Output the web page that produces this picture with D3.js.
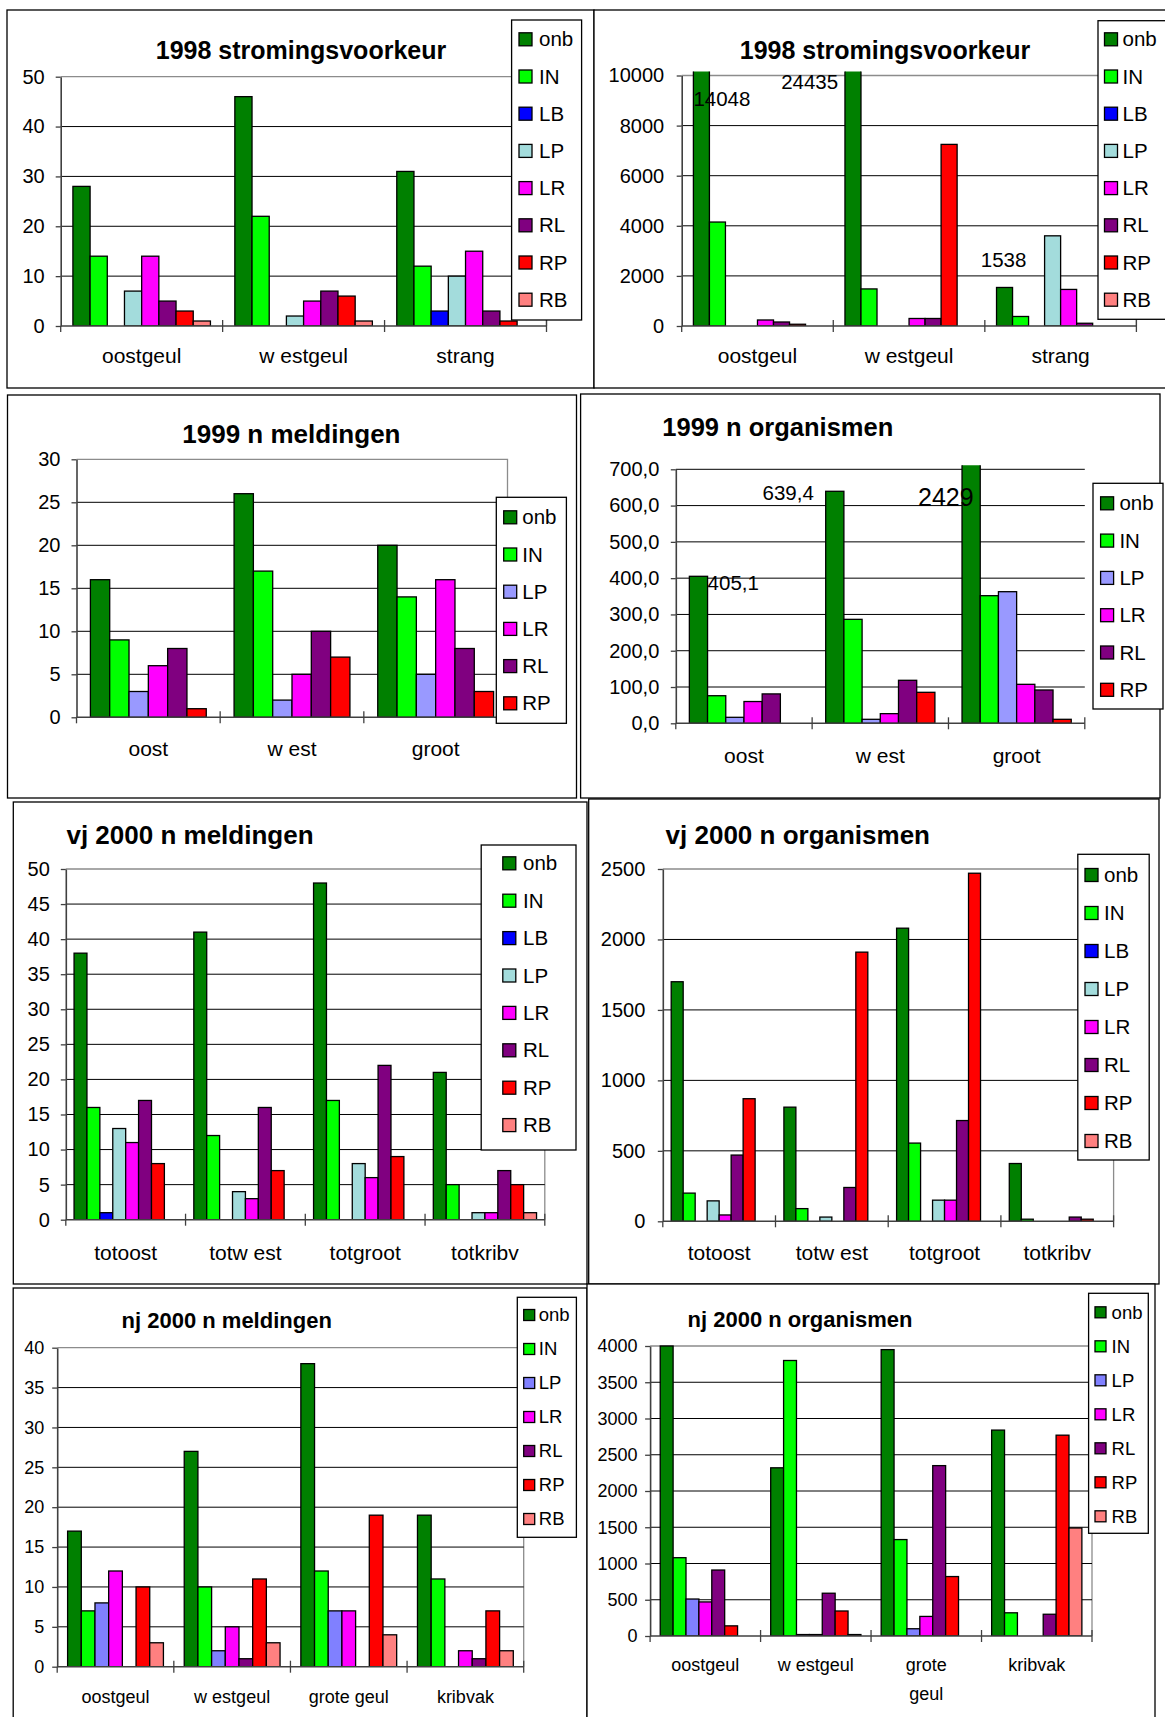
<!DOCTYPE html>
<html>
<head>
<meta charset="utf-8">
<script src="https://cdn.jsdelivr.net/npm/d3@7"></script>
<style>
  body { margin: 0; background: #fff; }
  svg { display: block; font-family: "Liberation Sans", Arial, sans-serif; }
</style>
</head>
<body>
<script>
// series (legend entries)
const series8 = ["onb", "IN", "LB", "LP", "LR", "RL", "RP", "RB"];
const series6 = ["onb", "IN", "LP", "LR", "RL", "RP"];
const series7 = ["onb", "IN", "LP", "LR", "RL", "RP", "RB"];

// categories
const cats98 = ["oostgeul", "w estgeul", "strang"];
const cats99 = ["oost", "w est", "groot"];
const catsVj = ["totoost", "totw est", "totgroot", "totkribv"];
const catsNj = ["oostgeul", "w estgeul", "grote geul", "kribvak"];
const catsNjOrg = ["oostgeul", "w estgeul", "grote\ngeul", "kribvak"];

// values: one row per category, one column per series
const meld98 = [[28, 14, 0, 7, 14, 5, 3, 1], [46, 22, 0, 2, 5, 7, 6, 1], [31, 12, 3, 10, 15, 3, 1, 0]];
const org98 = [[14048, 4150, 0, 0, 240, 160, 70, 0], [24435, 1480, 0, 0, 300, 300, 7250, 0], [1538, 380, 0, 3600, 1460, 110, 0, 0]];
const meld99 = [[16, 9, 3, 6, 8, 1], [26, 17, 2, 5, 10, 7], [20, 14, 5, 16, 8, 3]];
const org99 = [[405.1, 76, 16.5, 60, 81, 0], [639.4, 286.5, 11, 26.6, 118.5, 85.4], [2429, 351.7, 362.7, 107.4, 91.8, 11]];
const meldVj = [[38, 16, 1, 13, 11, 17, 8, 0], [41, 12, 0, 4, 3, 16, 7, 0], [48, 17, 0, 8, 6, 22, 9, 0], [21, 5, 0, 1, 1, 7, 5, 1]];
const orgVj = [[1700, 200, 0, 145, 45, 470, 870, 0], [810, 90, 0, 30, 0, 240, 1910, 0], [2080, 555, 0, 150, 150, 715, 2470, 0], [410, 15, 0, 0, 0, 30, 15, 0]];
const meldNj = [[17, 7, 8, 12, 0, 10, 3], [27, 10, 2, 5, 1, 11, 3], [38, 12, 7, 7, 0, 19, 4], [19, 11, 0, 2, 1, 7, 2]];
const orgNj = [[4000, 1080, 510, 470, 910, 140, 0], [2320, 3800, 20, 20, 590, 345, 20], [3950, 1330, 100, 270, 2350, 820, 0], [2840, 320, 0, 0, 300, 2770, 1490]];

// y axis ticks
const ticks98m = [0, 10, 20, 30, 40, 50];
const ticks98o = [0, 2000, 4000, 6000, 8000, 10000];
const ticks99m = [0, 5, 10, 15, 20, 25, 30];
const ticks99o = [0, 100, 200, 300, 400, 500, 600, 700];
const ticksVjm = [0, 5, 10, 15, 20, 25, 30, 35, 40, 45, 50];
const ticksVjo = [0, 500, 1000, 1500, 2000, 2500];
const ticksNjm = [0, 5, 10, 15, 20, 25, 30, 35, 40];
const ticksNjo = [0, 500, 1000, 1500, 2000, 2500, 3000, 3500, 4000];

// data labels written on the charts: [category index, series index, text]
const labels98o = [[0, 0, "14048"], [1, 0, "24435"], [2, 0, "1538"]];
const labels99o = [[0, 0, "405,1"], [1, 0, "639,4"], [2, 0, "2429"]];

const colours = {
  onb: "#008000", IN: "#00ff00", LB: "#0000ff", LP: "#a3dcdc",
  LR: "#ff00ff", RL: "#800080", RP: "#ff0000", RB: "#ff8080"
};

const comma1 = d => d.toFixed(1).replace(".", ",");

const panels = [
  { title: "1998 stromingsvoorkeur", cats: cats98, series: series8, values: meld98, ticks: ticks98m,
    frame: [7, 10, 594, 388], titleX: 301, titleY: 59.3, titleSize: 25,
    xL: 60.7, xR: 546.5, yTop: 76.7, yBot: 326, pad: 0.71, border: true,
    catY: 362.5, tickPad: 11, font: 20, catFont: 21,
    legend: [511.6, 20, 70, 300], rowY: 19.3, rowStep: 37.2, swX: 7.4, txX: 27.4 },
  { title: "1998 stromingsvoorkeur", cats: cats98, series: series8, values: org98, ticks: ticks98o,
    frame: [594, 10, 1175, 388], titleX: 885, titleY: 59.3, titleSize: 25,
    xL: 681.7, xR: 1136.4, yTop: 75.5, yBot: 326, pad: 0.73, border: true,
    catY: 362.5, tickPad: 12.5, font: 20, catFont: 21,
    legend: [1098, 20.7, 80, 298.6], rowY: 18.6, rowStep: 37.2, swX: 6.5, txX: 24.5,
    labels: labels98o, labelFont: 20.5, labelOffsets: [[20.5, 27.3], [-43.3, 10.7], [-1, -27.4]] },
  { title: "1999 n meldingen", cats: cats99, series: series6, values: meld99, ticks: ticks99m,
    frame: [7.5, 395, 576.5, 798], titleX: 291.4, titleY: 443.3, titleSize: 26,
    xL: 76.5, xR: 507.5, yTop: 459.3, yBot: 717.3, pad: 0.72, border: true,
    catY: 756, tickPad: 11, font: 20, catFont: 21, lp: "#9999ff",
    legend: [496.3, 497.3, 70.1, 226], rowY: 20, rowStep: 37.2, swX: 7.4, txX: 26 },
  { title: "1999 n organismen", cats: cats99, series: series6, values: org99, ticks: ticks99o,
    frame: [580.6, 394, 1160, 798], titleX: 777.8, titleY: 436, titleSize: 25.5,
    xL: 675.8, xR: 1084.8, yTop: 469.3, yBot: 723.3, pad: 0.745, border: false,
    catY: 763.3, tickPad: 11.5, font: 20, catFont: 21, lp: "#9999ff", fmt: comma1,
    legend: [1093, 483.3, 70, 225.7], rowY: 20, rowStep: 37.3, swX: 7.6, txX: 26.4,
    labels: labels99o, labelFont: 20.5, bigLabel: 25, labelOffsets: [[34.8, 7], [-46.6, 1.4], [-25.3, 32]] },
  { title: "vj 2000 n meldingen", cats: catsVj, series: series8, values: meldVj, ticks: ticksVjm,
    frame: [13.3, 802, 587, 1284], titleX: 190, titleY: 844.3, titleSize: 26,
    xL: 65.8, xR: 544.8, yTop: 869, yBot: 1219.7, pad: 0.64, border: true,
    catY: 1260, tickPad: 11, font: 20, catFont: 21,
    legend: [481.2, 845, 94.8, 305], rowY: 18.3, rowStep: 37.4, swX: 21.6, txX: 41.8 },
  { title: "vj 2000 n organismen", cats: catsVj, series: series8, values: orgVj, ticks: ticksVjo,
    frame: [588.7, 799, 1159, 1284], titleX: 797.8, titleY: 844.3, titleSize: 26,
    xL: 662.8, xR: 1113.6, yTop: 869, yBot: 1221.3, pad: 0.7, border: true,
    catY: 1260, tickPad: 12.5, font: 20, catFont: 21,
    legend: [1077.8, 854.3, 71.4, 305.7], rowY: 20.7, rowStep: 38, swX: 7.2, txX: 26.2 },
  { title: "nj 2000 n meldingen", cats: catsNj, series: series7, values: meldNj, ticks: ticksNjm,
    frame: [13.2, 1288, 587, 1730], titleX: 226.7, titleY: 1328.3, titleSize: 22,
    xL: 57.2, xR: 523.7, yTop: 1347.7, yBot: 1666.7, pad: 0.76, border: true,
    catY: 1703.3, tickPad: 8, font: 18, catFont: 18, lp: "#8080ff", sw: 11,
    legend: [517.3, 1297.3, 59.1, 240], rowY: 17.7, rowStep: 34, swX: 6.4, txX: 21.5 },
  { title: "nj 2000 n organismen", cats: catsNjOrg, series: series7, values: orgNj, ticks: ticksNjo,
    frame: [587, 1284, 1155, 1730], titleX: 800, titleY: 1326.7, titleSize: 22,
    xL: 650.1, xR: 1092, yTop: 1346, yBot: 1636, pad: 0.785, border: true,
    catY: 1671, tickPad: 7.5, font: 18, catFont: 18, lp: "#8080ff", sw: 11,
    legend: [1088.6, 1293.3, 59.7, 240], rowY: 19, rowStep: 34, swX: 6.4, txX: 23 }
];

const svg = d3.select("body")
  .append("svg")
  .attr("width", 1165)
  .attr("height", 1717);

svg.append("rect").attr("width", 1165).attr("height", 1717).attr("fill", "#fff");

panels.forEach((p, k) => {
  const g = svg.append("g");
  const f = p.frame;

  g.append("rect")
    .attr("x", f[0]).attr("y", f[1])
    .attr("width", f[2] - f[0]).attr("height", f[3] - f[1])
    .attr("fill", "#fff").attr("stroke", "#000").attr("stroke-width", 1.3);

  g.append("text")
    .attr("x", p.titleX).attr("y", p.titleY)
    .attr("text-anchor", "middle")
    .attr("font-weight", "bold")
    .attr("font-size", p.titleSize)
    .text(p.title);

  const maxY = d3.max(p.ticks);
  const y = d3.scaleLinear().domain([0, maxY]).range([p.yBot, p.yTop]);
  const x0 = d3.scaleBand().domain(p.cats).range([p.xL, p.xR]).padding(0);
  const x1 = d3.scaleBand().domain(p.series).range([0, x0.bandwidth()])
    .paddingInner(0).paddingOuter(p.pad);

  // plot area border (grey top + right)
  if (p.border) {
    g.append("path")
      .attr("d", `M${p.xL},${p.yTop}H${p.xR}V${p.yBot}`)
      .attr("fill", "none").attr("stroke", "#8c8c8c").attr("stroke-width", 1.3);
  }

  // gridlines
  g.selectAll(".grid")
    .data(p.ticks.filter(t => t > 0 && (!p.border || t < maxY)))
    .enter()
    .append("line")
    .attr("x1", p.xL).attr("x2", p.xR)
    .attr("y1", d => y(d)).attr("y2", d => y(d))
    .attr("stroke", "#000").attr("stroke-width", 1);

  // bars (clipped slightly above the plot top like the original)
  const clipId = "clip" + k;
  svg.append("clipPath").attr("id", clipId)
    .append("rect")
    .attr("x", p.xL).attr("y", p.yTop - 4)
    .attr("width", p.xR - p.xL).attr("height", p.yBot - p.yTop + 4);

  const rows = [];
  p.values.forEach((row, i) => {
    row.forEach((v, j) => {
      if (v > 0) rows.push({ cat: p.cats[i], ser: p.series[j], v: v });
    });
  });

  g.append("g")
    .attr("clip-path", `url(#${clipId})`)
    .selectAll("rect")
    .data(rows)
    .enter()
    .append("rect")
    .attr("x", d => x0(d.cat) + x1(d.ser))
    .attr("y", d => y(d.v))
    .attr("width", x1.bandwidth())
    .attr("height", d => p.yBot - y(d.v))
    .attr("fill", d => d.ser === "LP" && p.lp ? p.lp : colours[d.ser])
    .attr("stroke", "#000")
    .attr("stroke-width", 1.3);

  // x axis with ticks between categories
  g.append("line")
    .attr("x1", p.xL).attr("x2", p.xR)
    .attr("y1", p.yBot).attr("y2", p.yBot)
    .attr("stroke", "#404040").attr("stroke-width", 1.6);

  const bounds = p.cats.map(c => x0(c)).concat([p.xR]);
  g.selectAll(".xt")
    .data(bounds)
    .enter()
    .append("line")
    .attr("x1", d => d).attr("x2", d => d)
    .attr("y1", (d, i) => i === 0 ? p.yBot : p.yBot - 6)
    .attr("y2", p.yBot + 6)
    .attr("stroke", "#404040").attr("stroke-width", 1.3);

  p.cats.forEach(c => {
    const t = g.append("text")
      .attr("x", x0(c) + x0.bandwidth() / 2)
      .attr("y", p.catY)
      .attr("text-anchor", "middle")
      .attr("font-size", p.catFont);
    c.split("\n").forEach((line, li) => {
      t.append("tspan")
        .attr("x", x0(c) + x0.bandwidth() / 2)
        .attr("dy", li === 0 ? 0 : 29)
        .text(line);
    });
  });

  // y axis
  const yAxis = g.append("g")
    .attr("transform", `translate(${p.xL},0)`)
    .call(d3.axisLeft(y)
      .tickValues(p.ticks)
      .tickFormat(p.fmt || (d => d))
      .tickSize(5)
      .tickSizeOuter(0)
      .tickPadding(p.tickPad));
  yAxis.select(".domain").attr("stroke", "#404040").attr("stroke-width", 1.6);
  yAxis.selectAll(".tick line").attr("stroke", "#404040").attr("stroke-width", 1.3);
  yAxis.selectAll(".tick text")
    .attr("fill", "#000")
    .attr("font-size", p.font)
    .attr("font-family", "Liberation Sans, Arial, sans-serif");

  // value labels typed on the chart
  if (p.labels) {
    p.labels.forEach((lab, i) => {
      const cat = p.cats[lab[0]];
      const ser = p.series[lab[1]];
      const v = p.values[lab[0]][lab[1]];
      const top = Math.max(y(v), p.yTop - 4);
      const off = p.labelOffsets[i];
      g.append("text")
        .attr("x", x0(cat) + x1(ser) + x1.bandwidth() / 2 + off[0])
        .attr("y", top + off[1])
        .attr("dy", "0.35em")
        .attr("text-anchor", "middle")
        .attr("font-size", p.bigLabel && lab[2] === "2429" ? p.bigLabel : p.labelFont)
        .text(lab[2]);
    });
  }

  // legend
  const L = p.legend;
  const sw = p.sw || 13;
  const lg = g.append("g");
  lg.append("rect")
    .attr("x", L[0]).attr("y", L[1]).attr("width", L[2]).attr("height", L[3])
    .attr("fill", "#fff").attr("stroke", "#000").attr("stroke-width", 1.3);
  p.series.forEach((s, i) => {
    const cy = L[1] + p.rowY + i * p.rowStep;
    lg.append("rect")
      .attr("x", L[0] + p.swX).attr("y", cy - sw / 2)
      .attr("width", sw).attr("height", sw)
      .attr("fill", s === "LP" && p.lp ? p.lp : colours[s])
      .attr("stroke", "#000").attr("stroke-width", 1.3);
    lg.append("text")
      .attr("x", L[0] + p.txX).attr("y", cy)
      .attr("dy", "0.35em")
      .attr("font-size", p.font + 0.5)
      .text(s);
  });
});
</script>
</body>
</html>
